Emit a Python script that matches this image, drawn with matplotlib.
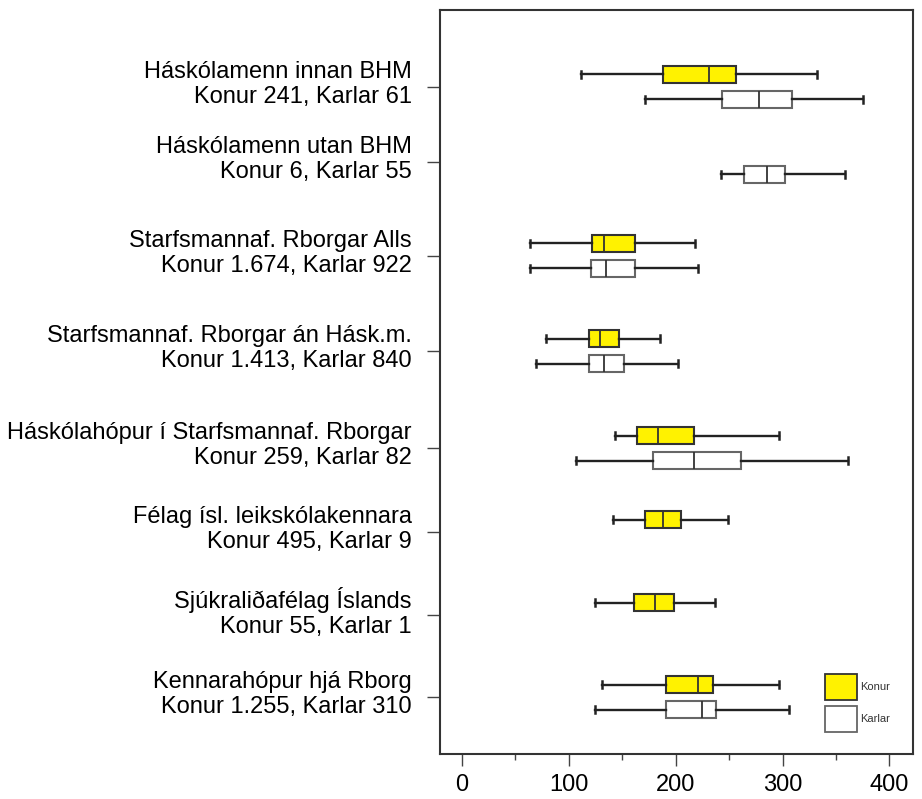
import matplotlib.pyplot as plt
from matplotlib.patches import Rectangle
from matplotlib.ticker import MultipleLocator
from matplotlib.transforms import ScaledTranslation

plt.rcParams['font.family'] = ['Liberation Sans', 'DejaVu Sans']

groups = [
    "Háskólamenn innan BHM\nKonur 241, Karlar 61",
    "Háskólamenn utan BHM\nKonur 6, Karlar 55",
    "Starfsmannaf. Rborgar Alls\nKonur 1.674, Karlar 922",
    "Starfsmannaf. Rborgar án Hásk.m.\nKonur 1.413, Karlar 840",
    "Háskólahópur í Starfsmannaf. Rborgar\nKonur 259, Karlar 82",
    "Félag ísl. leikskólakennara\nKonur 495, Karlar 9",
    "Sjúkraliðafélag Íslands\nKonur 55, Karlar 1",
    "Kennarahópur hjá Rborg\nKonur 1.255, Karlar 310",
]

# (low whisker, Q1, median, Q3, high whisker); None = no box drawn
konur = [
    (111, 188, 231, 256, 332),
    None,
    (64, 122, 133, 162, 218),
    (79, 119, 129, 147, 185),
    (143, 164, 183, 217, 297),
    (141, 171, 188, 205, 249),
    (124, 161, 181, 198, 237),
    (131, 191, 221, 235, 297),
]
karlar = [
    (171, 243, 278, 309, 375),
    (242, 264, 285, 302, 358),
    (64, 121, 135, 162, 221),
    (69, 119, 133, 152, 202),
    (107, 179, 217, 261, 361),
    None,
    None,
    (124, 191, 225, 238, 306),
]

# row positions (irregular spacing as in the original)
rows = [0.87, 1.62, 2.56, 3.51, 4.48, 5.32, 6.15, 6.97]
off = 0.125
bw = 0.17

fig = plt.figure(figsize=(9.22, 7.99), dpi=100)
ax = fig.add_axes([0.4772, 0.0563, 0.5130, 0.9312])


def stats(vals):
    lo, q1, med, q3, hi = vals
    return dict(whislo=lo, q1=q1, med=med, q3=q3, whishi=hi, fliers=[])


def draw(series, sign, face, edge):
    st, pos = [], []
    for r, v in zip(rows, series):
        if v is None:
            continue
        st.append(stats(v))
        pos.append(r + sign * off)
    ax.bxp(st, positions=pos, widths=bw, orientation='horizontal',
           patch_artist=True, showfliers=False, manage_ticks=False,
           capwidths=0.07,
           boxprops=dict(facecolor=face, edgecolor=edge, linewidth=1.5),
           medianprops=dict(color='#333333', linewidth=1.3),
           whiskerprops=dict(color='#222222', linewidth=1.7),
           capprops=dict(color='#222222', linewidth=1.8))


draw(konur, -1, '#fff200', '#333333')
draw(karlar, 1, 'white', '#666666')

ax.set_ylim(7.54, 0.10)
ax.set_xlim(-20.6, 422)
ax.set_yticks(rows)
ax.set_yticklabels(groups, fontsize=17, ha='right', multialignment='right')
ax.tick_params(axis='y', length=9.5, width=1, pad=11, color='#444444')
shift = ScaledTranslation(0, 5 / 72, fig.dpi_scale_trans)
for lab in ax.get_yticklabels():
    lab.set_transform(lab.get_transform() + shift)

ax.xaxis.set_major_locator(MultipleLocator(100))
ax.xaxis.set_minor_locator(MultipleLocator(50))
ax.tick_params(axis='x', which='major', length=8.6, width=1, labelsize=17,
               pad=6, color='#444444')
ax.tick_params(axis='x', which='minor', length=4.3, width=1, color='#444444')

for s in ax.spines.values():
    s.set_linewidth(1.5)
    s.set_color('#333333')

# legend drawn by hand to match the boxed swatches
ax.add_patch(Rectangle((0.814, 0.0726), 0.068, 0.035, transform=ax.transAxes,
                       facecolor='#fff200', edgecolor='#333333', linewidth=1.3))
ax.add_patch(Rectangle((0.814, 0.0296), 0.068, 0.035, transform=ax.transAxes,
                       facecolor='white', edgecolor='#666666', linewidth=1.3))
ax.text(0.888, 0.090, 'Konur', transform=ax.transAxes, fontsize=8,
        va='center', ha='left', color='#333333')
ax.text(0.888, 0.047, 'Karlar', transform=ax.transAxes, fontsize=8,
        va='center', ha='left', color='#333333')

fig.savefig('out.png', dpi=100)
